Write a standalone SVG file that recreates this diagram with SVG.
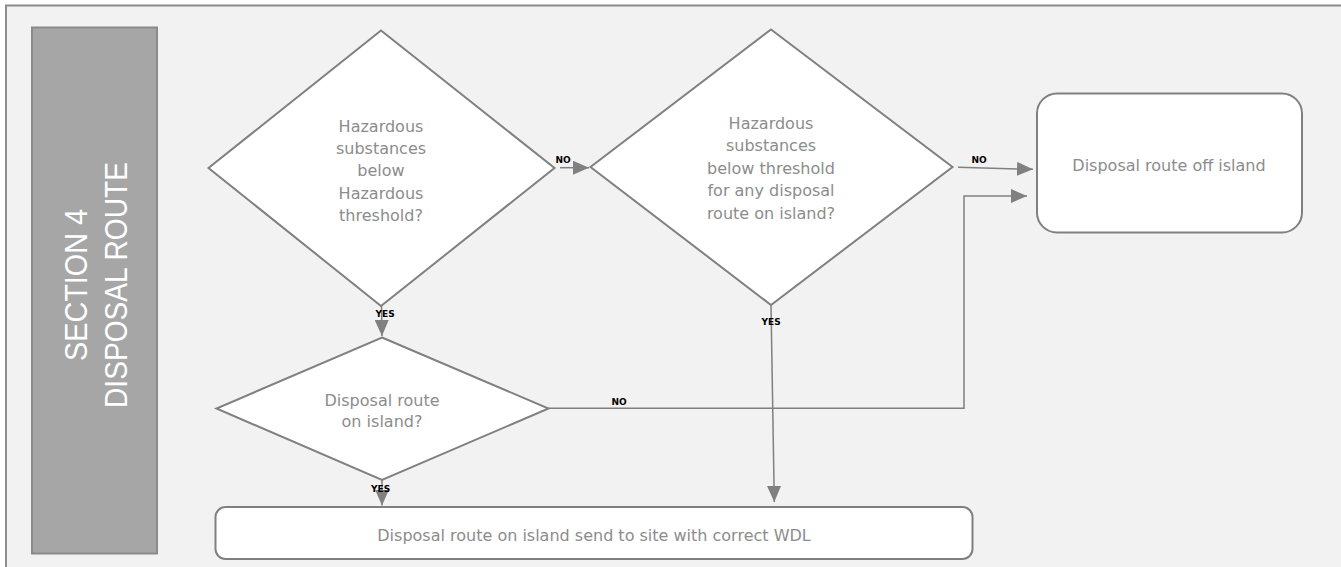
<svg xmlns="http://www.w3.org/2000/svg" width="1341" height="567" viewBox="0 0 1341 567">
  <defs>
    <marker id="arrow" markerUnits="userSpaceOnUse" markerWidth="16" markerHeight="14" refX="16" refY="7" orient="auto">
      <path d="M0,0 L16,7 L0,14 Z" fill="#808080"/>
    </marker>
  </defs>
  <style>
    .shape { fill: #ffffff; stroke: #808080; stroke-width: 2; }
    .txt { font-family: "DejaVu Sans", Verdana, sans-serif; font-size: 16px; fill: #8c8c8c; text-anchor: middle; }
    .lbl { font-family: "DejaVu Sans", Verdana, sans-serif; font-size: 9px; font-weight: bold; fill: #000000; }
    .conn { fill: none; stroke: #808080; stroke-width: 1.5; }
    .lane { font-family: "Liberation Sans", Arial, sans-serif; font-size: 32px; fill: #ffffff; text-anchor: middle; }
  </style>

  <!-- page background and frame -->
  <rect x="0" y="0" width="1341" height="567" fill="#ffffff"/>
  <rect x="6" y="5.5" width="1345" height="570" fill="#f2f2f2" stroke="#8c8c8c" stroke-width="2"/>

  <!-- section lane header -->
  <g id="section-header">
    <rect x="32" y="27.5" width="125" height="526" fill="#a6a6a6" stroke="#8a8a8a" stroke-width="2"/>
    <text class="lane" transform="translate(87,285) rotate(-90)" textLength="152" lengthAdjust="spacingAndGlyphs">SECTION 4</text>
    <text class="lane" transform="translate(127,285) rotate(-90)" textLength="246" lengthAdjust="spacingAndGlyphs">DISPOSAL ROUTE</text>
  </g>

  <!-- decision: below hazardous threshold -->
  <g id="decision-hazardous">
    <polygon class="shape" points="381,30.5 554.5,168 381,306 208.5,168"/>
    <text class="txt" x="381" y="131.5">Hazardous</text>
    <text class="txt" x="381" y="153.9">substances</text>
    <text class="txt" x="381" y="176.3">below</text>
    <text class="txt" x="381" y="198.7">Hazardous</text>
    <text class="txt" x="381" y="221.1">threshold?</text>
  </g>

  <!-- decision: below threshold for any on-island route -->
  <g id="decision-threshold">
    <polygon class="shape" points="771,29.5 952.5,167 771,305 590.5,167"/>
    <text class="txt" x="771" y="128.5">Hazardous</text>
    <text class="txt" x="771" y="151">substances</text>
    <text class="txt" x="771" y="173.5">below threshold</text>
    <text class="txt" x="771" y="196">for any disposal</text>
    <text class="txt" x="771" y="218.5">route on island?</text>
  </g>

  <!-- decision: route on island -->
  <g id="decision-on-island">
    <polygon class="shape" points="382,337.5 548.5,408.5 382,480 216.5,408.5"/>
    <text class="txt" x="382" y="405.5">Disposal route</text>
    <text class="txt" x="382" y="427">on island?</text>
  </g>

  <!-- outcome: off island -->
  <g id="outcome-off-island">
    <rect class="shape" x="1037" y="93.5" width="265" height="139" rx="20" ry="20"/>
    <text class="txt" x="1169" y="171">Disposal route off island</text>
  </g>

  <!-- outcome: on island -->
  <g id="outcome-on-island">
    <rect class="shape" x="215.5" y="507" width="757" height="52" rx="10" ry="10"/>
    <text class="txt" x="594" y="541">Disposal route on island send to site with correct WDL</text>
  </g>

  <!-- connectors -->
  <g id="connectors">
    <line class="conn" x1="560" y1="167.7" x2="589" y2="167.7" marker-end="url(#arrow)"/>
    <line class="conn" x1="958" y1="167.3" x2="1033" y2="169.3" marker-end="url(#arrow)"/>
    <polyline class="conn" points="548.5,408.3 964,408.3 964,196 1027,196" marker-end="url(#arrow)"/>
    <line class="conn" x1="381.5" y1="306" x2="382" y2="336" marker-end="url(#arrow)"/>
    <line class="conn" x1="382" y1="480" x2="382" y2="505.5" marker-end="url(#arrow)"/>
    <line class="conn" x1="771" y1="305" x2="774.3" y2="502" marker-end="url(#arrow)"/>

    <text class="lbl" x="555.5" y="163">NO</text>
    <text class="lbl" x="971.5" y="163">NO</text>
    <text class="lbl" x="611.5" y="405">NO</text>
    <text class="lbl" x="375.5" y="317">YES</text>
    <text class="lbl" x="371" y="492">YES</text>
    <text class="lbl" x="761.5" y="325">YES</text>
  </g>
</svg>
